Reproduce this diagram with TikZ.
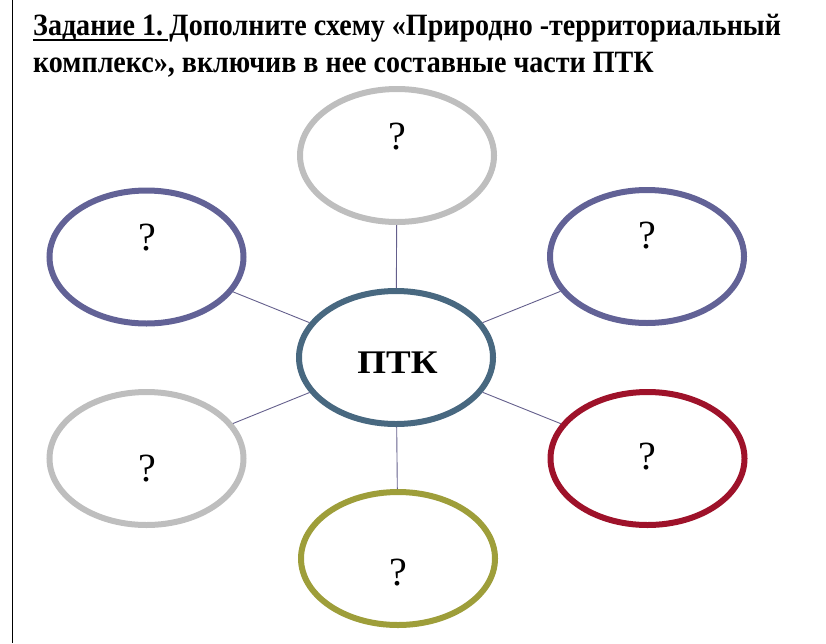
\documentclass[tikz,border=0pt]{standalone}
\usepackage{fontspec}
\setmainfont{Liberation Serif}
\newfontfamily\titlefont[FakeStretch=0.905]{Liberation Serif}
\newfontfamily\ptkfont[FakeStretch=1.12]{Liberation Serif}
\usetikzlibrary{shapes.geometric}
\definecolor{cgray}{RGB}{190,190,190}
\definecolor{cslate}{RGB}{98,98,150}
\definecolor{cteal}{RGB}{72,104,128}
\definecolor{cred}{RGB}{158,18,42}
\definecolor{colive}{RGB}{158,158,58}
\definecolor{cline}{RGB}{100,95,140}
\tikzset{
  bub/.style={draw=#1, line width=6pt, ellipse, minimum width=194pt, minimum height=133pt, inner sep=0pt},
  qmark/.style={font=\fontsize{40}{40}\selectfont, inner sep=0pt},
  conn/.style={draw=cline, line width=0.9pt},
  ttl/.style={font=\titlefont\bfseries\fontsize{31}{31}\selectfont, inner sep=0pt, anchor=base west}
}
\begin{document}
\begin{tikzpicture}[x=1pt,y=-1pt]
\useasboundingbox (0,0) rectangle (826,643);
\draw[line width=1pt] (12,0) coordinate (vl1) -- (12,643) coordinate (vl2);
% title
\node[ttl] (t1a) at (33,35) {Задание 1.};
\node[ttl, anchor=base west] (t1b) at ([xshift=6pt]t1a.base east) {Дополните схему «Природно -территориальный};
\draw[line width=2.5pt] ([yshift=-5pt]t1a.base west) -- ([yshift=-5pt,xshift=5pt]t1a.base east);
\node[ttl] (t2) at (33,72) {комплекс», включив в нее составные части ПТК};
% ellipses
\node[bub=cteal] (c) at (396,357.5) {};
\node[font=\ptkfont\bfseries\fontsize{33}{33}\selectfont, inner sep=0pt] (ptk) at (397.5,362.5) {ПТК};
\node[bub=cgray] (n) at (397,155.5) {};
\node[bub=cslate] (nw) at (146.5,257) {};
\node[bub=cslate] (ne) at (647,256.5) {};
\node[bub=cgray] (sw) at (146.5,458.5) {};
\node[bub=cred] (se) at (647.5,458.5) {};
\node[bub=colive] (s) at (398,558.5) {};
% question marks
\node[qmark] (qn) at (397,137) {?};
\node[qmark] (qnw) at (147,238) {?};
\node[qmark] (qne) at (647,236) {?};
\node[qmark] (qsw) at (147,469) {?};
\node[qmark] (qse) at (647,457) {?};
\node[qmark] (qs) at (398,573) {?};
% connectors
\draw[conn] (n) -- (c);
\draw[conn] (nw) -- (c);
\draw[conn] (ne) -- (c);
\draw[conn] (sw) -- (c);
\draw[conn] (se) -- (c);
\draw[conn] (s) -- (c);
\end{tikzpicture}
\end{document}
